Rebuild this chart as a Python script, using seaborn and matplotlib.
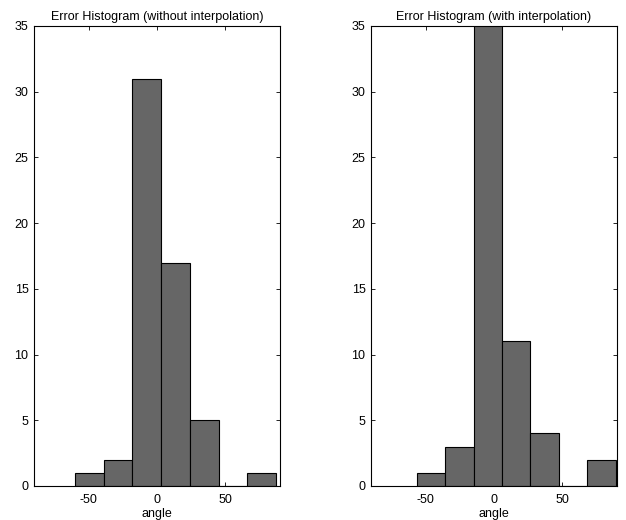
import numpy as np
import matplotlib
matplotlib.use("Agg")
import matplotlib.pyplot as plt
import seaborn as sns

sns.set_style("ticks")
plt.rcParams["font.family"] = ["Liberation Sans", "DejaVu Sans"]
plt.rcParams["font.size"] = 9
plt.rcParams["axes.unicode_minus"] = False
plt.rcParams["text.color"] = "black"
plt.rcParams["axes.labelcolor"] = "black"
plt.rcParams["xtick.color"] = "black"
plt.rcParams["ytick.color"] = "black"

# bin edges and counts
edges_sin = [-60, -39, -18, 3, 24, 45, 66, 87]
counts_sin = [1, 2, 31, 17, 5, 0, 1]

edges_con = [-56.5, -35.7, -14.9, 5.9, 26.7, 47.5, 68.3, 89.1]
counts_con = [1, 3, 36, 11, 4, 0, 2]

titles = ["Error Histogram (without interpolation)", "Error Histogram (with interpolation)"]

fig = plt.figure(figsize=(6.26, 5.2), dpi=100)
ax1 = fig.add_axes([34 / 626, 1 - 486 / 520, 246 / 626, 460 / 520])
ax2 = fig.add_axes([371 / 626, 1 - 486 / 520, 246 / 626, 460 / 520])

for ax, edges, counts, titulo in zip(
    [ax1, ax2], [edges_sin, edges_con], [counts_sin, counts_con], titles
):
    centros = [(a + b) / 2 for a, b in zip(edges[:-1], edges[1:])]
    sns.histplot(
        x=centros,
        weights=counts,
        bins=edges,
        color="#666666",
        edgecolor="black",
        linewidth=0.8,
        alpha=1,
        ax=ax,
    )
    ax.set_xlim(-90, 90)
    ax.set_ylim(0, 35)
    ax.set_xticks([-50, 0, 50])
    ax.set_yticks(range(0, 36, 5))
    ax.set_xlabel("angle", fontsize=9, labelpad=1, color="black")
    ax.set_ylabel("")
    ax.set_title(titulo, fontsize=9, pad=4, color="black")
    for s in ax.spines.values():
        s.set_visible(True)
        s.set_linewidth(0.8)
        s.set_color("black")
    ax.tick_params(direction="in", length=3, width=0.6, top=True, right=True,
                   labelsize=9, colors="black")
    ax.tick_params(axis="x", pad=6)
    ax.tick_params(axis="y", pad=4)

plt.savefig("out.png", dpi=100)
